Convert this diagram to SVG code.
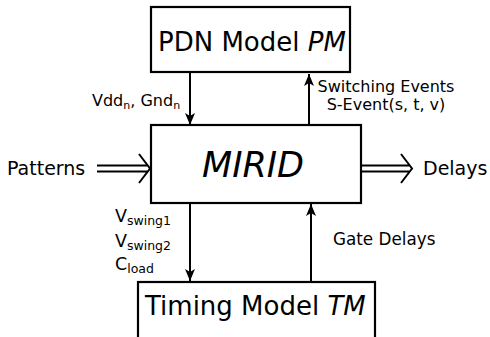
<svg xmlns="http://www.w3.org/2000/svg" width="490" height="337" viewBox="0 0 490 337">
<style>
text{font-family:"DejaVu Sans","Liberation Sans",sans-serif;fill:#000}
.box{fill:#fff;stroke:#000;stroke-width:2.2}
.ln{stroke:#000;stroke-width:2;fill:none}
.big{font-size:26px}
.sm{font-size:16px}
.md{font-size:19px}
.sub{font-size:12.5px}
</style>
<defs>
<marker id="ah" viewBox="0 0 12 10" refX="12" refY="5" markerWidth="12" markerHeight="10" markerUnits="userSpaceOnUse" orient="auto">
<path d="M0,0 L12,5 L0,10 L3,5 Z" fill="#000"/>
</marker>
</defs>
<g id="pdn">
<rect class="box" x="151" y="7" width="199" height="65"/>
<text class="big" x="158" y="51">PDN Model <tspan font-style="italic">PM</tspan></text>
</g>
<g id="mirid">
<rect class="box" x="151" y="125" width="210" height="78"/>
<text x="253" y="177" font-size="35" font-style="italic" text-anchor="middle">MIRID</text>
</g>
<g id="timing">
<rect class="box" x="138" y="282" width="237" height="70"/>
<text class="big" x="145" y="315">Timing Model <tspan font-style="italic">TM</tspan></text>
</g>
<g id="connectors">
<line class="ln" x1="190" y1="72" x2="190" y2="125" marker-end="url(#ah)"/>
<line class="ln" x1="309" y1="125" x2="309" y2="74" marker-end="url(#ah)"/>
<line class="ln" x1="190" y1="203" x2="190" y2="281" marker-end="url(#ah)"/>
<line class="ln" x1="311" y1="282" x2="311" y2="204" marker-end="url(#ah)"/>
<path class="ln" d="M97,165.5 H148 M97,171.5 H148 M139,154 L150,168.5 L139,183"/>
<path class="ln" d="M362,165.5 H409 M362,171.5 H409 M401,154 L412,168.5 L401,183"/>
</g>
<g id="labels">
<text class="sm" x="92" y="106">Vdd<tspan font-size="11" dy="3">n</tspan><tspan dy="-3">, Gnd</tspan><tspan font-size="11" dy="3">n</tspan></text>
<text class="sm" x="386" y="92" text-anchor="middle">Switching Events</text>
<text class="sm" x="386" y="110" text-anchor="middle">S-Event(s, t, v)</text>
<text class="md" x="7" y="175">Patterns</text>
<text class="md" x="423" y="175">Delays</text>
<text x="333" y="245" font-size="16.8">Gate Delays</text>
<text x="115" y="222" font-size="17.5">V<tspan class="sub" dy="3">swing1</tspan></text>
<text x="115" y="247" font-size="17.5">V<tspan class="sub" dy="3">swing2</tspan></text>
<text x="115" y="270" font-size="17.5">C<tspan class="sub" dy="3">load</tspan></text>
</g>
</svg>
